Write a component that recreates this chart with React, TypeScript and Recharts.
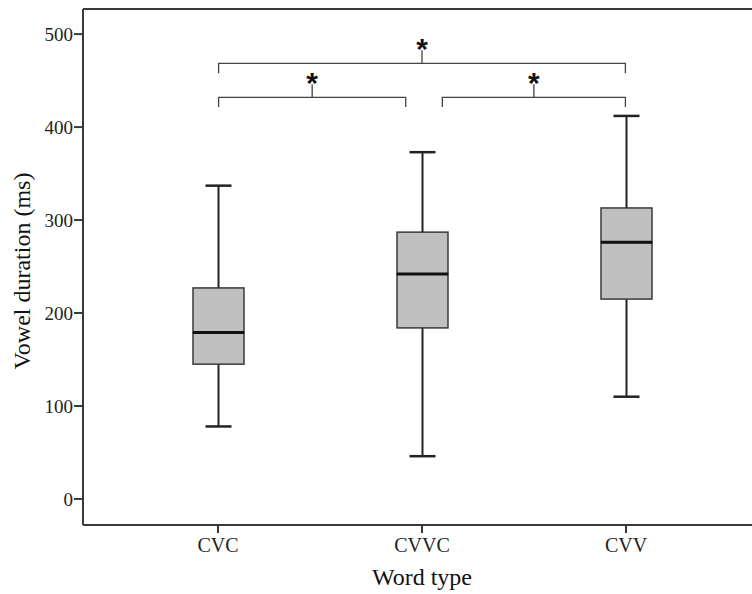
import React from 'react';
import { ComposedChart, Bar, Line, Scatter, XAxis, YAxis, ReferenceLine } from 'recharts';

// ---- data ----
const categories = ['CVC', 'CVVC', 'CVV'];
const whiskerLow = [78, 46, 110];
const q1 = [145, 184, 215];
const median = [179, 242, 276];
const q3 = [227, 287, 313];
const whiskerHigh = [337, 373, 412];

const yTicks = [0, 100, 200, 300, 400, 500];
const yDomain = [-28, 527];

// significance comparisons (positions on a numeric copy of the category axis: CVC=1, CVVC=2, CVV=3)
const compFrom = [1, 1, 2.1];
const compTo = [3, 1.92, 3];
const compLevel = [468.5, 432, 432];
const compLabel = ['*', '*', '*'];
const bracketDrop = 10.5;
const bracketRise = 14;
const starLift = 23;

const FONT = '"Liberation Serif", "Times New Roman", serif';
const AXIS = '#3a3a3a';

const boxData = categories.map((name, i) => ({
  name,
  base: whiskerLow[i],
  lowW: q1[i] - whiskerLow[i],
  lowBox: median[i] - q1[i],
  upBox: q3[i] - median[i],
  upW: whiskerHigh[i] - q3[i],
}));

const brackets = compFrom.map((x1, i) => {
  const x2 = compTo[i];
  const xm = (x1 + x2) / 2;
  const y = compLevel[i];
  return [
    { x: x1, y: y - bracketDrop },
    { x: x1, y },
    { x: xm, y },
    { x: xm, y: y + bracketRise },
    { x: xm, y },
    { x: x2, y },
    { x: x2, y: y - bracketDrop },
  ];
});

const stars = compFrom.map((x1, i) => ({
  x: (x1 + compTo[i]) / 2,
  y: compLevel[i] + starLift,
  label: compLabel[i],
}));

const CAP = 26;

const LowWhisker = (p: any) => {
  const cx = p.x + p.width / 2;
  return (
    <g>
      <line x1={cx} x2={cx} y1={p.y} y2={p.y + p.height} stroke="#222" strokeWidth={2} />
      <line x1={cx - CAP / 2} x2={cx + CAP / 2} y1={p.y + p.height} y2={p.y + p.height} stroke="#222" strokeWidth={2.5} />
    </g>
  );
};

const UpWhisker = (p: any) => {
  const cx = p.x + p.width / 2;
  return (
    <g>
      <line x1={cx} x2={cx} y1={p.y} y2={p.y + p.height} stroke="#222" strokeWidth={2} />
      <line x1={cx - CAP / 2} x2={cx + CAP / 2} y1={p.y} y2={p.y} stroke="#222" strokeWidth={2.5} />
    </g>
  );
};

const LowBox = (p: any) => (
  <rect x={p.x} y={p.y} width={p.width} height={p.height} fill="#c0c0c0" stroke="#3a3a3a" strokeWidth={1.5} />
);

const UpBox = (p: any) => (
  <g>
    <rect x={p.x} y={p.y} width={p.width} height={p.height} fill="#c0c0c0" stroke="#3a3a3a" strokeWidth={1.5} />
    <line x1={p.x} x2={p.x + p.width} y1={p.y + p.height} y2={p.y + p.height} stroke="#111" strokeWidth={3} />
  </g>
);

const Star = (p: any) => (
  <text
    x={p.cx}
    y={p.cy + 17}
    textAnchor="middle"
    fontSize={30}
    fontWeight="bold"
    fontFamily='"Liberation Sans", Arial, sans-serif'
    fill="#111"
  >
    {p.payload.label}
  </text>
);

const YTitle = (props: any) => {
  const vb = props.viewBox || { x: 0, y: 9, width: 83, height: 516 };
  const cx = 22;
  const cy = vb.y + vb.height / 2 + 4;
  return (
    <text
      x={cx}
      y={cy}
      transform={`rotate(-90, ${cx}, ${cy})`}
      textAnchor="middle"
      dominantBaseline="central"
      fontFamily={FONT}
      fontSize={24}
      fill="#111"
    >
      Vowel duration (ms)
    </text>
  );
};

const XTitle = (props: any) => {
  const vb = props.viewBox || { x: 83, y: 525, width: 678, height: 69 };
  return (
    <text x={vb.x + vb.width / 2} y={585} textAnchor="middle" fontFamily={FONT} fontSize={24} fill="#111">
      Word type
    </text>
  );
};

export default function App() {
  return (
    <div
      style={{
        position: 'fixed',
        left: 0,
        top: 0,
        width: 752,
        height: 594,
        overflow: 'hidden',
        background: '#fff',
      }}
    >
      <ComposedChart width={770} height={594} data={boxData} margin={{ top: 9, right: 9, bottom: 0, left: 0 }}>
        <XAxis
          xAxisId="cat"
          dataKey="name"
          type="category"
          padding={{ left: 33, right: 33 }}
          height={69}
          axisLine={{ stroke: AXIS, strokeWidth: 2 }}
          tickLine={{ stroke: AXIS, strokeWidth: 2 }}
          tickSize={8}
          tickMargin={5}
          tick={{ fontFamily: FONT, fontSize: 20, fill: '#222' }}
          interval={0}
          label={<XTitle />}
        />
        <XAxis xAxisId="ann" dataKey="x" type="number" domain={[1 / 3, 11 / 3]} allowDataOverflow hide height={0} />
        <YAxis
          type="number"
          domain={yDomain}
          ticks={yTicks}
          allowDataOverflow
          width={83}
          axisLine={{ stroke: AXIS, strokeWidth: 2 }}
          tickLine={{ stroke: AXIS, strokeWidth: 2 }}
          tickSize={9}
          tickMargin={1}
          tick={{ fontFamily: FONT, fontSize: 19, fill: '#222' }}
          label={<YTitle />}
        />
        <ReferenceLine xAxisId="cat" y={yDomain[1]} stroke={AXIS} strokeWidth={2} />
        <Bar xAxisId="cat" dataKey="base" stackId="b" fill="transparent" barSize={51} isAnimationActive={false} />
        <Bar xAxisId="cat" dataKey="lowW" stackId="b" barSize={51} shape={LowWhisker} isAnimationActive={false} />
        <Bar xAxisId="cat" dataKey="lowBox" stackId="b" barSize={51} shape={LowBox} isAnimationActive={false} />
        <Bar xAxisId="cat" dataKey="upBox" stackId="b" barSize={51} shape={UpBox} isAnimationActive={false} />
        <Bar xAxisId="cat" dataKey="upW" stackId="b" barSize={51} shape={UpWhisker} isAnimationActive={false} />
        {brackets.map((pts, i) => (
          <Line
            key={`br${i}`}
            xAxisId="ann"
            data={pts}
            dataKey="y"
            type="linear"
            stroke="#444"
            strokeWidth={1.3}
            dot={false}
            activeDot={false}
            isAnimationActive={false}
          />
        ))}
        <Scatter xAxisId="ann" data={stars} dataKey="y" shape={Star} isAnimationActive={false} />
      </ComposedChart>
    </div>
  );
}
